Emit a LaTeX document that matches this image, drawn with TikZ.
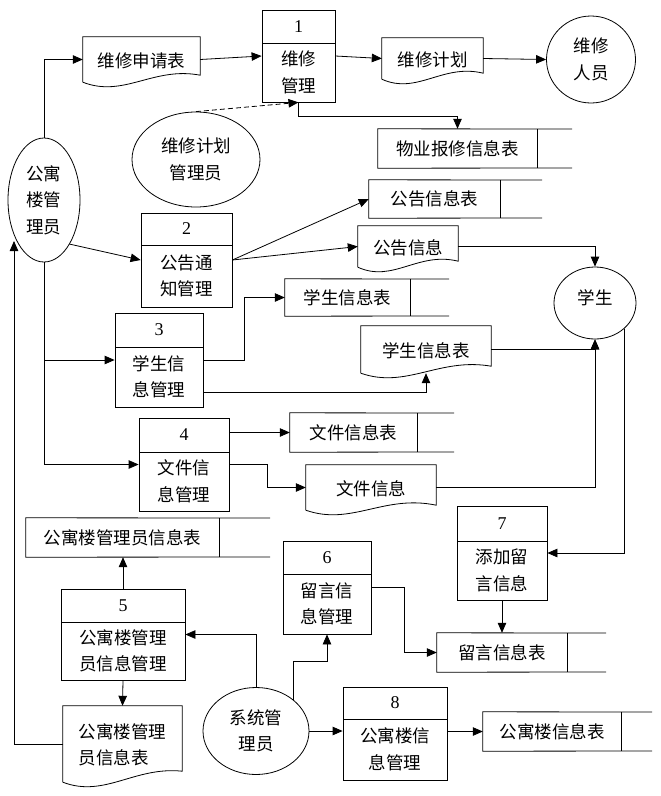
\documentclass[tikz,border=0pt]{standalone}
\usepackage{fontspec}
\setmainfont{Liberation Serif}
\newfontfamily\cjk{Noto Sans CJK SC}
\usetikzlibrary{arrows.meta,calc,fit,shapes.geometric}
\tikzset{
  line/.style={draw=black, line width=0.8pt},
  arr/.style={line, -{Triangle[length=10pt,width=8.5pt]}},
  procbox/.style={draw=black, line width=0.8pt, inner sep=0pt, rectangle},
  frame/.style={inner sep=0pt, rectangle},
  txt/.style={font=\cjk\fontsize{17.5}{26.5}\selectfont, align=center, inner sep=0pt},
  numtext/.style={font=\fontsize{18}{20}\selectfont, inner sep=0pt},
  ent/.style={draw=black, line width=0.8pt, ellipse, inner sep=0pt, txt},
}
% process: name, x0, y0, x1, y1, ydiv, number, text
\newcommand\proc[8]{%
  \pgfmathsetmacro\pcx{(#2+#4)/2}%
  \pgfmathsetmacro\pny{(#3+#6)/2}%
  \pgfmathsetmacro\pty{(#6+#5)/2}%
  \node[procbox, fit={(#2,#3) (#4,#5)}] (#1) {};
  \draw[line] (#2,#6) -- (#4,#6);
  \node[numtext] (#1n) at (\pcx,\pny) {#7};
  \node[txt] (#1t) at (\pcx,\pty) {#8};
}
% store: name, x0, y0, xdiv, x1, y1, text
\newcommand\store[7]{%
  \node[frame, fit={(#2,#3) (#4,#6)}] (#1) {};
  \node[txt] (#1t) at (#1.center) {#7};
  \draw[line] (#5,#3) -- (#1.north west) -- (#1.south west) -- (#5,#6);
  \draw[line] (#1.north east) -- (#1.south east);
}
% document: [opts] name, x0, y0, x1, ybottom-left, rise, text
\newcommand\docnode[8][]{%
  \node[frame, fit={(#3,#4) (#5,#6)}] (#2) {};
  \node[txt, #1] (#2t) at ($(#2.center)+(0,1)$) {#8};
  \draw[line] (#2.south west) -- (#2.north west) -- (#2.north east) -- ($(#2.south east)+(0,-#7)$)
    .. controls ($(#2.south west)!0.6!(#2.south east)+(0,-16)$) and ($(#2.south west)!0.35!(#2.south east)+(0,16)$) .. (#2.south west);
}
\begin{document}
\begin{tikzpicture}[x=1pt,y=-1pt]
\useasboundingbox (0,0) rectangle (661,796);

% processes
\proc{p1}{262}{10}{335}{102}{43}{1}{维修\\管理}
\proc{p2}{141}{213}{232}{307}{245}{2}{公告通\\知管理}
\proc{p3}{115}{313}{203}{407}{347}{3}{学生信\\息管理}
\proc{p4}{139}{418}{229}{511}{452}{4}{文件信\\息管理}
\proc{p5}{61}{589}{185}{680}{622}{5}{公寓楼管理\\员信息管理}
\proc{p6}{283}{541}{371}{634}{574}{6}{留言信\\息管理}
\proc{p7}{457}{506}{547}{600}{541}{7}{添加留\\言信息}
\proc{p8}{343}{687}{447}{780}{719}{8}{公寓楼信\\息管理}

% data stores
\store{s1}{378}{129}{537}{572}{168}{物业报修信息表}
\store{s2}{369}{180}{500}{542}{218}{公告信息表}
\store{s3}{285}{279}{410}{449}{316}{学生信息表}
\store{s4}{290}{413}{417}{454}{452}{文件信息表}
\store{s5}{26}{518}{219}{270}{557}{公寓楼管理员信息表}
\store{s6}{437}{633}{567}{606}{672}{留言信息表}
\store{s8}{483}{712}{621}{652}{751}{公寓楼信息表}

% documents
\docnode{d1}{83}{37}{200}{82}{7}{维修申请表}
\docnode{d2}{382}{38}{483}{79}{6}{维修计划}
\docnode{d3}{358}{226}{458}{267}{6}{公告信息}
\docnode{d4}{361}{326}{491}{373}{7}{学生信息表}
\docnode{d5}{306}{465}{436}{510}{5}{文件信息}
\docnode[align=left]{d6}{63}{706}{182}{782}{11}{公寓楼管理\\员信息表}

% external entities
\node[ent, minimum width=72, minimum height=124] (gl) at (44,200) {公寓\\楼管\\理员};
\node[ent, minimum width=128, minimum height=95] (wxy) at (196,159.5) {维修计划\\管理员};
\node[ent, minimum width=89, minimum height=87] (wxry) at (591,59.5) {维修\\人员};
\node[ent, minimum width=82, minimum height=72] (xs) at (595,303) {};
\node[txt] (xst) at ($(xs.center)+(0,-5)$) {学生};
\node[ent, minimum width=106, minimum height=87] (xt) at (256,731) {系统管\\理员};

% connectors
\draw[arr] (gl.north) |- (d1.west);
\draw[arr] (d1.east) -- (p1.west);
\draw[arr] (p1.east) -- (d2.west);
\draw[arr] (d2.east) -- (wxry.west);
\draw[arr, dash pattern=on 5pt off 3pt] (wxy.north) -- (p1.south);
\draw[arr] (p1.south) -- ++(0,14) -| (s1.north);
\draw[arr] (gl.south east) -- (p2.west);
\draw[arr] (p2.east) -- (s2.west);
\draw[arr] (p2.east) -- (d3.west);
\draw[arr] (d3.east) -| (xs.north);
\draw[arr] (gl.south) |- (p3.west);
\draw[arr] (gl.south) |- (p4.west);
\draw[arr] (p3.east) -- ++(41,0) |- (s3.west);
\draw[arr] ($(p3.south east)+(0,-15)$) -| (d4.south);
\draw[arr] (d4.east) -| (xs.south);
\draw[arr] (d5.east) -| (xs.south);
\draw[arr] (xs.south east) |- (p7.east);
\draw[arr] (p4.east |- s4.west) -- (s4.west);
\draw[arr] (p4.east) -- ++(38,0) |- (d5.west);
\draw[arr] (p5.north) -- (p5.north |- s5.south);
\draw[arr] (p5.south) -- (d6.north);
\coordinate (glin) at (14,241);
\draw[arr] (d6.west) -| (glin);
\draw[arr] (xt.north) |- (p5.east);
\draw[arr] (xt.north east) -- ++(0,-39) -| (p6.south);
\draw[arr] (p6.east) -- ++(33,0) |- (s6.west);
\draw[arr] (p7.south) -- (p7.south |- s6.north);
\draw[arr] (xt.east) -- (xt.east -| p8.west);
\draw[arr] (p8.east |- s8.west) -- (s8.west);
\end{tikzpicture}
\end{document}
